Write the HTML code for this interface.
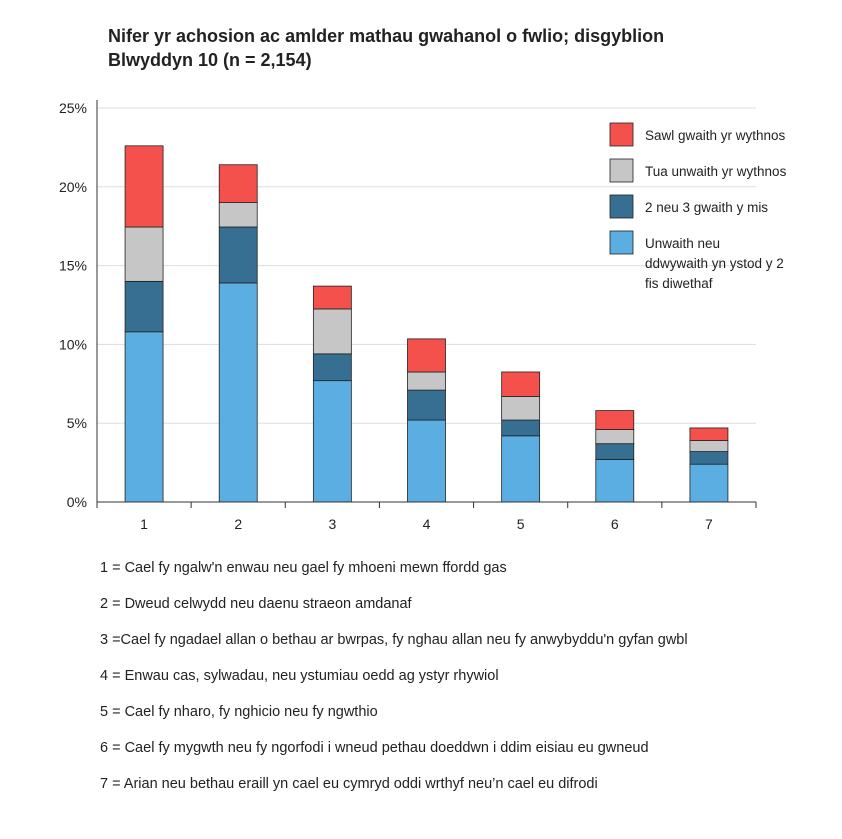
<!DOCTYPE html>
<html><head><meta charset="utf-8"><style>
body{margin:0;background:#fff;font-family:"Liberation Sans",sans-serif;}
svg text{font-family:"Liberation Sans",sans-serif;fill:#222;}
</style></head><body>
<svg width="842" height="834" xmlns="http://www.w3.org/2000/svg">
<text x="108" y="42" font-size="18" font-weight="bold">Nifer yr achosion ac amlder mathau gwahanol o fwlio; disgyblion</text>
<text x="108" y="66" font-size="18" font-weight="bold">Blwyddyn 10  (n = 2,154)</text>
<g id="grid"></g><g id="bars"></g><g id="axes"></g><g id="legend"></g>
<g font-size="14.5">
<text x="100" y="572">1 = Cael fy ngalw'n enwau neu gael fy mhoeni mewn ffordd gas</text>
<text x="100" y="608">2 = Dweud celwydd neu daenu straeon amdanaf</text>
<text x="100" y="644">3 =Cael fy ngadael allan o bethau ar bwrpas, fy nghau allan neu fy anwybyddu'n gyfan gwbl</text>
<text x="100" y="680">4 = Enwau cas, sylwadau, neu ystumiau oedd ag ystyr rhywiol</text>
<text x="100" y="716">5 = Cael fy nharo, fy nghicio neu fy ngwthio</text>
<text x="100" y="752">6 = Cael fy mygwth neu fy ngorfodi i wneud pethau doeddwn i ddim eisiau eu gwneud</text>
<text x="100" y="788">7 = Arian neu bethau eraill yn cael eu cymryd oddi wrthyf neu’n cael eu difrodi</text>
</g>
</svg>
<script>
const categories=["1","2","3","4","5","6","7"];
const once=[10.8,13.9,7.7,5.2,4.2,2.7,2.4];
const monthly=[3.2,3.55,1.7,1.9,1.0,1.0,0.8];
const weekly=[3.45,1.55,2.85,1.15,1.5,0.9,0.7];
const several=[5.15,2.4,1.45,2.1,1.55,1.2,0.8];
const yTicks=[0,5,10,15,20,25];
const NS="http://www.w3.org/2000/svg";
const x0=97,x1=756,y0=502,yTop=108;
const y=v=>y0-(v/25)*(y0-yTop);
const band=(x1-x0)/categories.length;
const xc=i=>x0+band*(i+0.5);
function mk(t,a,p){const e=document.createElementNS(NS,t);for(const k in a)e.setAttribute(k,a[k]);p.appendChild(e);return e;}
const grid=document.getElementById('grid'),bars=document.getElementById('bars'),axes=document.getElementById('axes'),leg=document.getElementById('legend');
yTicks.forEach(t=>{
 if(t>0){const l=mk('line',{x1:x0,x2:x1,y1:y(t),y2:y(t),stroke:'#ddd','stroke-width':1},grid);
 
 }
 const tx=mk('text',{x:87,y:y(t)+5,'text-anchor':'end','font-size':14},axes);tx.textContent=t+'%';
 
 
});
const series=[{d:once,c:'#5aaee2',n:'Unwaith neu ddwywaith'},{d:monthly,c:'#366f91',n:'2 neu 3 gwaith y mis'},{d:weekly,c:'#c6c6c6',n:'Tua unwaith'},{d:several,c:'#f4504c',n:'Sawl gwaith'}];
categories.forEach((c,i)=>{
 let acc=0;
 series.forEach((s,si)=>{
  const v=s.d[i];
  const r=mk('rect',{x:xc(i)-19,width:38,y:y(acc+v),height:y(acc)-y(acc+v),fill:s.c,stroke:'#222','stroke-width':0.8},bars);
  
  
  acc+=v;
 });
 const tx=mk('text',{x:xc(i),y:529,'text-anchor':'middle','font-size':14},axes);tx.textContent=c;
 
 
});
const ya=mk('line',{x1:x0,x2:x0,y1:100,y2:y0,stroke:'#333'},axes);


const xa=mk('line',{x1:x0,x2:x1,y1:y0,y2:y0,stroke:'#333'},axes);


for(let i=0;i<=categories.length;i++){const t=mk('line',{x1:x0+band*i,x2:x0+band*i,y1:y0,y2:y0+6,stroke:'#333'},axes);
 
 }
const items=[{c:'#f4504c',l:['Sawl gwaith yr wythnos'],y:123},{c:'#c6c6c6',l:['Tua unwaith yr wythnos'],y:159},{c:'#366f91',l:['2 neu 3 gwaith y mis'],y:195},{c:'#5aaee2',l:['Unwaith neu','ddwywaith yn ystod y 2','fis diwethaf'],y:231}];
items.forEach(it=>{
 const g=mk('g',{},leg);
 
 
 mk('rect',{x:610,y:it.y,width:23,height:23,fill:it.c,stroke:'#222','stroke-width':0.8},g);
 it.l.forEach((s,k)=>{const t=mk('text',{x:645,y:it.y+17+k*20,'font-size':13.5},g);t.textContent=s;});
});
</script>
</body></html>
